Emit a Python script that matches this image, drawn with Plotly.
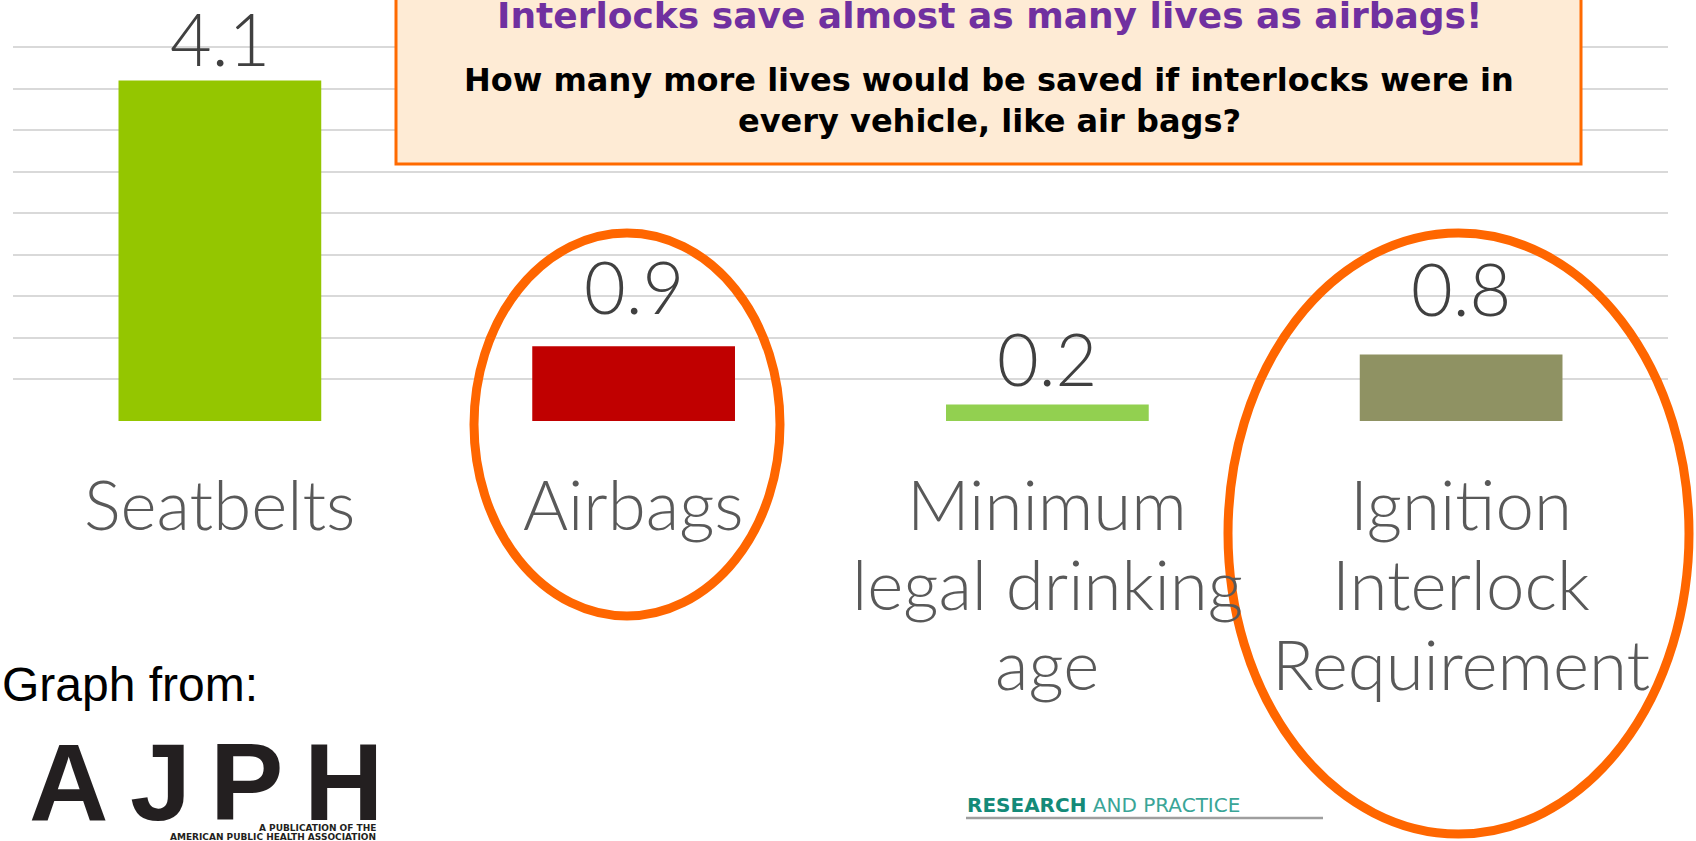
import plotly.graph_objects as go

categories = ["Seatbelts", "Airbags", "Minimum legal drinking age", "Ignition Interlock Requirement"]
category_lines = [["Seatbelts"], ["Airbags"], ["Minimum", "legal drinking", "age"],
                  ["Ignition", "Interlock", "Requirement"]]
values = [4.1, 0.9, 0.2, 0.8]
value_labels = ["4.1", "0.9", "0.2", "0.8"]

bar_colors = ["#94C600", "#C00000", "#92D050", "#8F9263"]
label_shift = [43, 60, 46, 67]  # px above bar top (style)

W, H = 1696, 841
BASE = 421
TOP = 39


def px(x):
    return x / W


def py(y):
    return (H - y) / H


fig = go.Figure()
fig.add_trace(go.Bar(
    x=categories, y=values, marker=dict(color=bar_colors, line=dict(width=0)),
    width=0.49, hoverinfo="skip", showlegend=False,
))

ann = []
label_font = dict(family="Lato", size=72, color="#404040", weight=300)
for c, v, t, s in zip(categories, values, value_labels, label_shift):
    ann.append(dict(x=c, y=v, xref="x", yref="y", text=t, showarrow=False,
                    yshift=s, yanchor="middle", xanchor="center", font=label_font))

cat_font = dict(family="Lato", size=69, color="#595959", weight=300)
for c, lines in zip(categories, category_lines):
    for i, t in enumerate(lines):
        ann.append(dict(x=c, y=py(503 + 80 * i), xref="x", yref="paper", text=t, showarrow=False,
                        yanchor="middle", xanchor="center", align="center", font=cat_font))

shapes = [
    # callout box
    dict(type="rect", xref="paper", yref="paper", x0=px(396), x1=px(1581), y0=py(164), y1=py(-40),
         fillcolor="#FEEBD5", line=dict(color="#FF6A00", width=3), layer="above"),
    # ellipses
    dict(type="circle", xref="paper", yref="paper", x0=px(474), x1=px(780), y0=py(616), y1=py(233),
         line=dict(color="#FF6600", width=9), layer="above"),
    dict(type="circle", xref="paper", yref="paper", x0=px(1228), x1=px(1689), y0=py(834), y1=py(233),
         line=dict(color="#FF6600", width=9), layer="above"),
    # line under RESEARCH AND PRACTICE
    dict(type="line", xref="paper", yref="paper", x0=px(966), x1=px(1323), y0=py(818), y1=py(818),
         line=dict(color="#9E9E9E", width=2.5), layer="above"),
]

ann += [
    dict(x=px(989), y=py(15), xref="paper", yref="paper", showarrow=False, yanchor="middle",
         xanchor="center", text="<b>Interlocks save almost as many lives as airbags!</b>",
         font=dict(family="DejaVu Sans", size=36, color="#7030A0")),
    dict(x=px(989), y=py(80), xref="paper", yref="paper", showarrow=False, yanchor="middle",
         xanchor="center", text="<b>How many more lives would be saved if interlocks were in</b>",
         font=dict(family="DejaVu Sans", size=32, color="#000000")),
    dict(x=px(989), y=py(121), xref="paper", yref="paper", showarrow=False, yanchor="middle",
         xanchor="center", text="<b>every vehicle, like air bags?</b>",
         font=dict(family="DejaVu Sans", size=32, color="#000000")),
    dict(x=px(0), y=py(684), xref="paper", yref="paper", showarrow=False, xanchor="left",
         yanchor="middle",
         text="Graph from:", font=dict(family="Liberation Sans", size=48, color="#000000")),
    dict(x=px(378), y=py(828), xref="paper", yref="paper", showarrow=False, xanchor="right",
         yanchor="middle", text="<b>A PUBLICATION OF THE</b>",
         font=dict(family="DejaVu Sans", size=9, color="#231F20")),
    dict(x=px(378), y=py(837), xref="paper", yref="paper", showarrow=False, xanchor="right",
         yanchor="middle", text="<b>AMERICAN PUBLIC HEALTH ASSOCIATION</b>",
         font=dict(family="DejaVu Sans", size=9, color="#231F20")),
    dict(x=px(965), y=py(805), xref="paper", yref="paper", showarrow=False, xanchor="left",
         yanchor="middle",
         text="<b>RESEARCH</b> <span style='color:#3AA597'>AND PRACTICE</span>",
         font=dict(family="DejaVu Sans", size=20, color="#148A78")),
]

for letter, cx in zip("AJPH", [68, 160, 247, 343]):
    ann.append(dict(x=px(cx), y=py(781), xref="paper", yref="paper", showarrow=False,
                    yanchor="middle", xanchor="center", text="<b>" + letter + "</b>",
                    font=dict(family="Liberation Sans", size=110, color="#231F20")))

fig.update_layout(
    width=W, height=H, margin=dict(l=0, r=0, t=0, b=0),
    paper_bgcolor="white", plot_bgcolor="white",
    xaxis=dict(domain=[px(13), px(1668)], showticklabels=False, showgrid=False, zeroline=False,
               showline=False, ticks=""),
    yaxis=dict(domain=[py(BASE), py(TOP)], range=[0, 4.6], dtick=0.5, showgrid=True,
               gridcolor="#D9D9D9", gridwidth=2, showticklabels=False, zeroline=False,
               showline=False, ticks=""),
    annotations=ann, shapes=shapes, bargap=0.51,
)

fig.write_html("out.html", config={"displayModeBar": False},
               post_script="document.body.style.margin='0px';")
